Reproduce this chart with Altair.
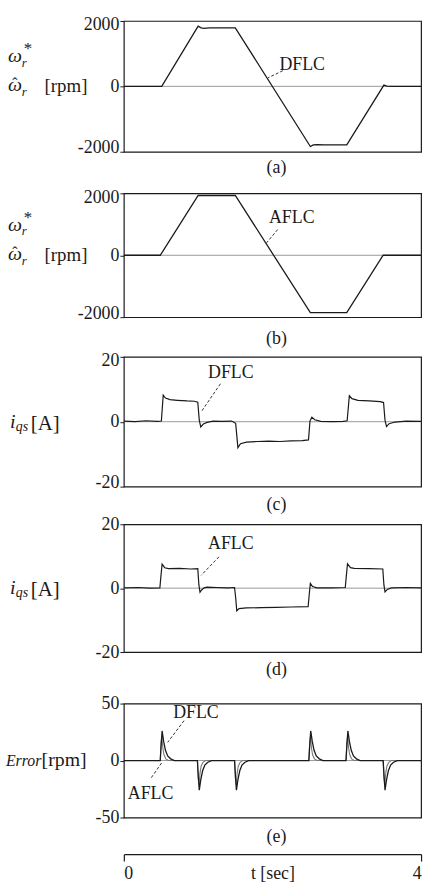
import altair as alt
import pandas as pd

SERIF = "Liberation Serif"
INK = "#1a1a1a"
GRAY = "#9a9a9a"
AGRAY = "#7a7a7a"

# ---------------- data ----------------
T_DOMAIN = [0, 4]
T_TICKS = [0, 4]
SPD_DOMAIN = [-2000, 2000]
SPD_TICKS = [-2000, 0, 2000]
IQS_DOMAIN = [-20, 20]
IQS_TICKS = [-20, 0, 20]
ERR_DOMAIN = [-50, 50]
ERR_TICKS = [-50, 0, 50]

# (a) speed with DFLC  (t [s], rpm)
SPD_D = [(0, 0), (0.51, 0), (1.00, 1840), (1.04, 1790), (1.08, 1775), (1.15, 1790),
         (1.50, 1790), (2.51, -1840), (2.55, -1790), (2.60, -1780), (2.70, -1790),
         (3.00, -1790), (3.50, 40), (3.54, 10), (3.60, 0), (4.00, 0)]
# (b) speed with AFLC
SPD_A = [(0, 0), (0.49, 0), (1.00, 1930), (1.50, 1930), (2.51, -1850),
         (3.00, -1850), (3.49, 0), (4.00, 0)]
# (c) q-axis current with DFLC (t [s], A)
IQS_D = [(0, 0.2), (0.15, 0.0), (0.30, 0.3), (0.45, 0.1), (0.505, 0.2), (0.53, 8.2),
         (0.56, 7.3), (0.62, 6.8), (0.72, 6.6), (0.85, 6.4), (0.95, 6.3), (0.995, 6.0),
         (1.015, 0.5), (1.035, -1.6), (1.07, -0.7), (1.12, -0.2), (1.20, 0.2), (1.32, 0.1),
         (1.45, 0.2), (1.505, -0.5), (1.535, -8.0), (1.57, -6.8), (1.65, -6.3), (1.80, -6.1),
         (1.95, -6.0), (2.10, -6.1), (2.25, -5.9), (2.40, -5.8), (2.485, -5.6), (2.505, 0.2),
         (2.53, 1.4), (2.57, 0.6), (2.65, 0.1), (2.80, 0.0), (2.95, 0.1), (3.005, 0.3),
         (3.035, 8.0), (3.07, 7.1), (3.15, 6.6), (3.30, 6.4), (3.45, 6.2), (3.495, 5.9),
         (3.515, 0.4), (3.535, -1.5), (3.57, -0.6), (3.65, -0.1), (3.80, 0.2), (4.00, 0.1)]
# (d) q-axis current with AFLC
IQS_A = [(0, 0.1), (0.20, 0.2), (0.35, 0.0), (0.485, 0.1), (0.50, 4.0), (0.515, 7.5),
         (0.55, 6.4), (0.60, 6.1), (0.75, 6.2), (0.90, 6.0), (0.995, 6.1), (1.01, 1.0),
         (1.025, -1.3), (1.05, -0.5), (1.08, 0.1), (1.12, 0.3), (1.25, 0.2), (1.40, 0.1),
         (1.49, 0.2), (1.505, -3.0), (1.52, -7.1), (1.55, -6.4), (1.65, -6.2), (1.85, -6.1),
         (2.05, -6.0), (2.25, -5.9), (2.48, -5.8), (2.495, -2.0), (2.51, 1.5), (2.54, 0.5),
         (2.60, 0.1), (2.80, 0.1), (2.98, 0.2), (2.995, 4.0), (3.01, 7.6), (3.05, 6.4),
         (3.10, 6.2), (3.30, 6.1), (3.485, 6.0), (3.50, 1.0), (3.515, -1.2), (3.545, -0.4),
         (3.60, 0.1), (3.80, 0.2), (4.00, 0.1)]
# (e) speed error: transient events (start time, sign) and the spike shape of each controller
ERR_EVENT_T = [0.49, 0.99, 1.49, 2.49, 2.99, 3.49]
ERR_EVENT_SIGN = [1, -1, -1, 1, 1, -1]
ERR_D_DT = [0, 0.012, 0.025, 0.045, 0.07, 0.10, 0.14, 0.19]
ERR_D_V = [0, 14, 26, 17, 9, 4, 1.5, 0]
ERR_A_DT = [0, 0.012, 0.022, 0.035, 0.05, 0.075, 0.11]
ERR_A_V = [0, 16, 21, 11, 5, 1.5, 0]

# annotations: (text, t, value) and pointer (t1, v1, t2, v2)
ANN = {
    "a": (("DFLC", 2.40, 640), (2.14, 480, 1.94, 260)),
    "b": (("AFLC", 2.26, 1200), (2.07, 830, 1.92, 400)),
    "c": (("DFLC", 1.44, 15.0), (1.30, 11.7, 1.04, 3.0)),
    "d": (("AFLC", 1.44, 13.7), (1.28, 9.8, 1.04, 4.0)),
    "e1": (("DFLC", 0.97, 42), (0.81, 35, 0.59, 16)),
    "e2": (("AFLC", 0.36, -29), (0.37, -15, 0.52, -1)),
}
CAPTIONS = ["(a)", "(b)", "(c)", "(d)", "(e)"]


def pairs_df(p):
    return pd.DataFrame({"t": [a for a, _ in p], "v": [b for _, b in p]})


def err_df(dts, vs):
    t, v = [0.0], [0.0]
    for t0, s in zip(ERR_EVENT_T, ERR_EVENT_SIGN):
        for dt, val in zip(dts, vs):
            t.append(round(t0 + dt, 4))
            v.append(s * val)
    t.append(4.0)
    v.append(0.0)
    return pd.DataFrame({"t": t, "v": v})


X_ENC = alt.X("t:Q", scale=alt.Scale(domain=T_DOMAIN), axis=None)


def y_enc(dom, ticks, flush):
    return alt.Y("v:Q", scale=alt.Scale(domain=dom),
                 axis=alt.Axis(values=ticks, format="d", title=None, grid=False, domain=False,
                               ticks=True, tickSize=4, tickColor=INK, tickWidth=1,
                               labelFont=SERIF, labelFontSize=18, labelColor=INK,
                               labelPadding=1, labelFlush=flush,
                               labelFlushOffset=5 if flush else 0,
                               labelExpr="replace(datum.label, '\u2212', '-')"))


def txt(s, x, y, size, italic=False, align="left", baseline="alphabetic"):
    return alt.Chart(alt.Data(values=[{}])).mark_text(
        text=s, font=SERIF, fontSize=size, fontStyle="italic" if italic else "normal",
        align=align, baseline=baseline, color=INK
    ).encode(x=alt.value(x), y=alt.value(y))


def panel(series, dom, ticks, h, anns, title_layers, flush):
    Y = y_enc(dom, ticks, flush)
    layers = [alt.Chart(pd.DataFrame({"v": [0]})).mark_rule(color=GRAY, strokeWidth=1).encode(y=Y)]
    for df, col, w in series:
        layers.append(alt.Chart(df).mark_line(color=col, strokeWidth=w).encode(x=X_ENC, y=Y))
    for (s, ta, va), (t1, v1, t2, v2) in anns:
        layers.append(alt.Chart(pd.DataFrame({"t": [t1], "v": [v1], "t2": [t2], "v2": [v2]}))
                      .mark_rule(strokeDash=[3, 2], color=INK, strokeWidth=0.9)
                      .encode(x=X_ENC, y=Y, x2="t2:Q", y2="v2:Q"))
        layers.append(alt.Chart(pd.DataFrame({"t": [ta], "v": [va], "s": [s]}))
                      .mark_text(font=SERIF, fontSize=18, color=INK)
                      .encode(x=X_ENC, y=Y, text="s:N"))
    layers += title_layers
    return alt.layer(*layers).properties(
        width=300, height=h, view=alt.ViewBackground(stroke=INK, strokeWidth=1.2))


def omega_title(z):
    return [txt("\u03c9", -117, z - 25, 20, italic=True),
            txt("r", -103, z - 20, 13, italic=True),
            txt("*", -101, z - 33, 17),
            txt("\u03c9", -117, z + 5, 20, italic=True),
            txt("\u02c6", -110, z + 3, 16, align="center"),
            txt("r", -103, z + 10, 13, italic=True),
            txt("[rpm]", -80, z + 6, 19)]


def iqs_title(z):
    return [txt("i", -115, z + 6, 20, italic=True),
            txt("qs", -109, z + 9, 14, italic=True),
            txt("[A]", -94, z + 8, 21)]


def err_title(z):
    return [txt("Error", -119, z + 5, 16, italic=True),
            txt("[rpm]", -83, z + 6, 20)]


def spacer(h, cap, cap_y):
    return txt(cap, 154, cap_y, 18, align="center", baseline="middle").properties(width=300, height=h)


HA, HB, HC, HD, HE = 132, 125, 131, 129, 115

pA = panel([(pairs_df(SPD_D), INK, 1.3)], SPD_DOMAIN, SPD_TICKS, HA, [ANN["a"]], omega_title(HA / 2), True)
pB = panel([(pairs_df(SPD_A), INK, 1.3)], SPD_DOMAIN, SPD_TICKS, HB, [ANN["b"]], omega_title(HB / 2), True)
pC = panel([(pairs_df(IQS_D), INK, 1.2)], IQS_DOMAIN, IQS_TICKS, HC, [ANN["c"]], iqs_title(HC / 2), True)
pD = panel([(pairs_df(IQS_A), INK, 1.2)], IQS_DOMAIN, IQS_TICKS, HD, [ANN["d"]], iqs_title(HD / 2), False)
pE = panel([(err_df(ERR_A_DT, ERR_A_V), AGRAY, 1.1), (err_df(ERR_D_DT, ERR_D_V), INK, 1.3)],
           ERR_DOMAIN, ERR_TICKS, HE, [ANN["e1"], ANN["e2"]], err_title(HE / 2), False)

sA = spacer(42, CAPTIONS[0], 16.5)
sB = spacer(40, CAPTIONS[1], 22)
sC = spacer(38, CAPTIONS[2], 19)
sD = spacer(52, CAPTIONS[3], 18)

time_axis = alt.Chart(pd.DataFrame({"t": T_TICKS})).mark_point(opacity=0).encode(
    x=alt.X("t:Q", scale=alt.Scale(domain=T_DOMAIN),
            axis=alt.Axis(values=T_TICKS, format="d", title="t [sec]", grid=False,
                          domain=True, domainColor=INK, domainWidth=1.2,
                          ticks=True, tickSize=7, tickColor=INK, tickWidth=1.2,
                          labelFlush=True, labelFont=SERIF, labelFontSize=18,
                          labelColor=INK, labelPadding=4,
                          titleFont=SERIF, titleFontSize=18, titleFontWeight="normal",
                          titleColor=INK, titleBaseline="top", titleY=11)),
    y=alt.value(0))
sE = alt.layer(txt(CAPTIONS[4], 154, 19.5, 18, align="center", baseline="middle"),
               time_axis).properties(width=300, height=37)

chart = alt.vconcat(pA, sA, pB, sB, pC, sC, pD, sD, pE, sE, spacing=0, bounds="flush").properties(
    padding={"left": 5, "top": 11, "right": 3, "bottom": 1},
    background="white",
).configure_view(stroke="transparent")

chart.save("out.html", embed_options={"renderer": "svg", "actions": False})
